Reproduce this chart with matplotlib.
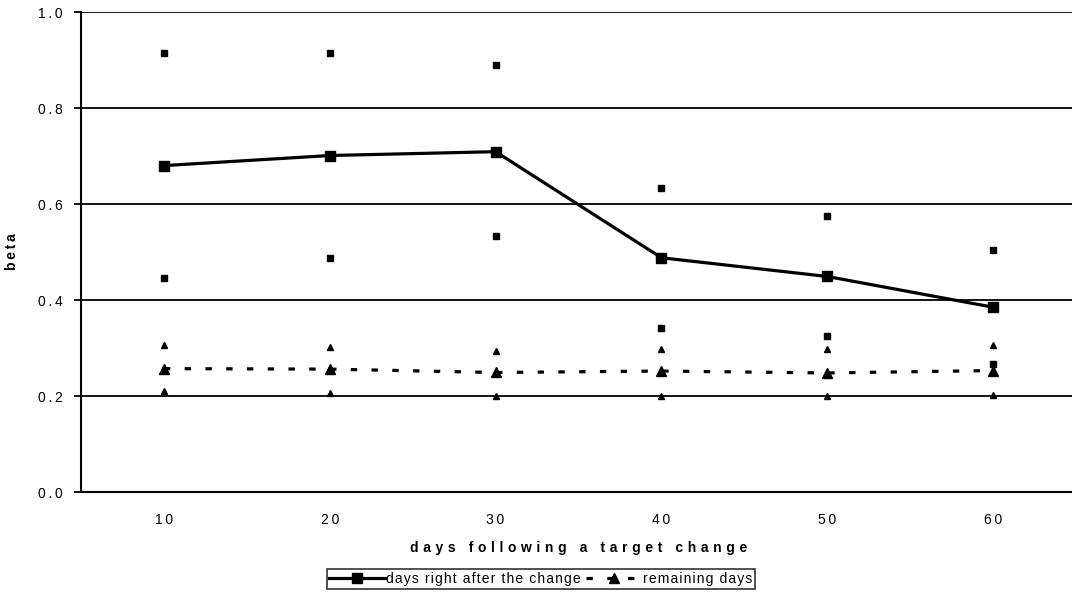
import matplotlib
matplotlib.use("Agg")
import matplotlib.pyplot as plt

days = [10, 20, 30, 40, 50, 60]
right_after = [0.680, 0.701, 0.709, 0.488, 0.449, 0.385]
right_after_upper = [0.915, 0.915, 0.890, 0.633, 0.574, 0.504]
right_after_lower = [0.446, 0.488, 0.533, 0.342, 0.325, 0.266]
remaining = [0.257, 0.256, 0.249, 0.252, 0.248, 0.253]
remaining_upper = [0.306, 0.302, 0.294, 0.298, 0.298, 0.306]
remaining_lower = [0.210, 0.206, 0.200, 0.200, 0.200, 0.203]
yticks = [0.0, 0.2, 0.4, 0.6, 0.8, 1.0]

plt.rcParams['font.family'] = ['Liberation Sans', 'DejaVu Sans']

THIN = '\u2009'
HAIR = '\u200a'
THREE = '\u2004'


def spaced(s, sp):
    return sp.join(s)


fig = plt.figure(figsize=(10.72, 5.93), dpi=100)
ax = fig.add_axes([81/1072, 101/593, 995/1072, 480/593])

x = list(range(1, len(days) + 1))

for yv in yticks[1:]:
    ax.axhline(yv, color='black', lw=1.3, zorder=1)

ax.plot(x, right_after, color='black', lw=2.3, marker='s', ms=6.5,
        label=spaced('days right after the change', HAIR), zorder=3)
ax.plot(x, remaining, color='black', lw=2.3, ls=(0, (2, 4.5)), marker='^', ms=6.5,
        label=spaced('remaining days', HAIR), zorder=3)
ax.plot(x, right_after_upper, ls='none', marker='s', ms=4.3, color='black', zorder=3)
ax.plot(x, right_after_lower, ls='none', marker='s', ms=4.3, color='black', zorder=3)
ax.plot(x, remaining_upper, ls='none', marker='^', ms=4.3, color='black', zorder=3)
ax.plot(x, remaining_lower, ls='none', marker='^', ms=4.3, color='black', zorder=3)

ax.set_xlim(0.5, 6.5)
ax.set_ylim(0, 1.0)
ax.set_xticks(x)
ax.set_xticklabels([spaced(str(d), THIN) for d in days], fontsize=10)
ax.set_yticks(yticks)
ax.set_yticklabels([spaced('%.1f' % v, THIN) for v in yticks], fontsize=10)
ax.tick_params(axis='y', direction='out', length=5, width=1.3, pad=8)
ax.tick_params(axis='x', length=0, pad=15)

for s in ['top', 'right']:
    ax.spines[s].set_visible(False)
ax.spines['left'].set_linewidth(1.5)
ax.spines['bottom'].set_linewidth(1.5)

ax.set_xlabel(spaced('days following a target change', THREE),
              fontsize=10, fontweight='bold', labelpad=10)
ax.set_ylabel(spaced('beta', THIN), fontsize=10, fontweight='bold', labelpad=14)

leg = fig.legend(loc='center', bbox_to_anchor=(541/1072, 1 - 579/593), ncol=2,
                 fontsize=10, frameon=True, fancybox=False, edgecolor='black',
                 handlelength=4.0, handletextpad=0.1, columnspacing=0.4,
                 borderpad=0.2, borderaxespad=0)
leg.get_frame().set_linewidth(1.2)

fig.savefig('out.png', dpi=100)
